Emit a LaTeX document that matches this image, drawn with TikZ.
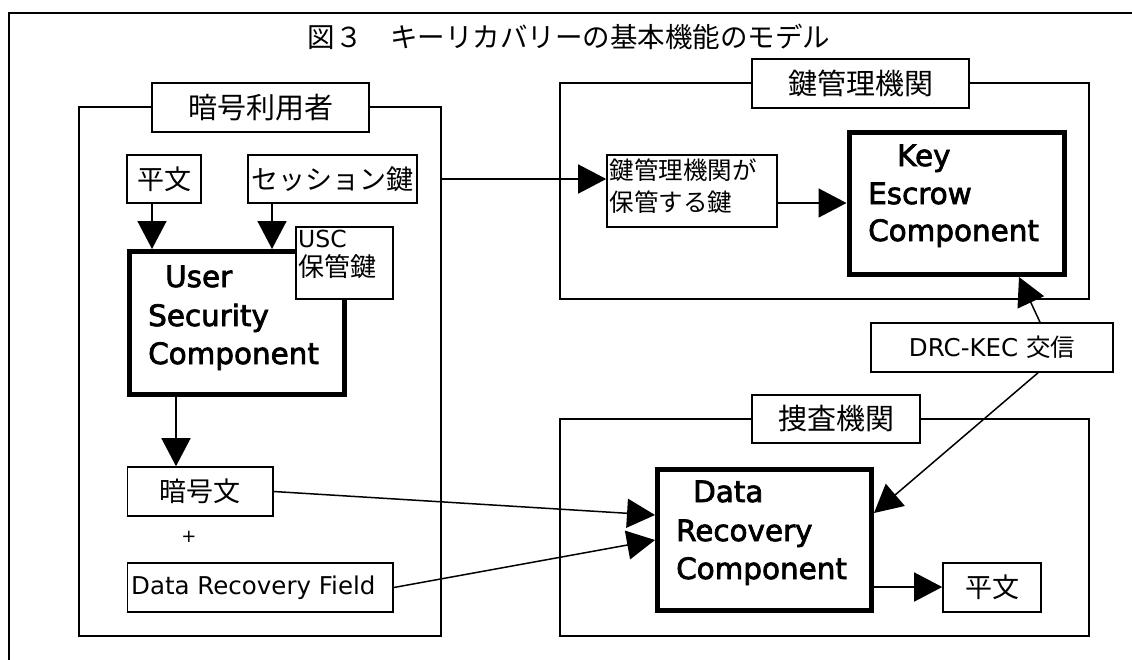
\documentclass[tikz,border=0pt]{standalone}
\usepackage{fontspec}
\setmainfont{DejaVu Sans}
\newfontfamily\jp{Noto Sans CJK JP}
\newfontfamily\compfont[FakeBold=2.5]{DejaVu Sans}
\usetikzlibrary{arrows.meta}

\begin{document}
\begin{tikzpicture}[x=1pt,y=-1pt,
  grp/.style={draw,line width=1.6pt,inner sep=0pt},
  plain/.style={draw,line width=1.6pt,fill=white,inner sep=0pt},
  heavy/.style={draw,line width=5pt,fill=white,inner sep=0pt},
  arr/.style={line width=1.5pt,-{Triangle[length=28pt,width=29pt]}},
  ttl/.style={font=\jp\fontsize{27.5}{27.5}\selectfont},
  lbl/.style={font=\jp\fontsize{29}{29}\selectfont},
  jtxt/.style={font=\jp\fontsize{27}{27}\selectfont},
  jsm/.style={font=\jp\fontsize{24.5}{24.5}\selectfont},
  comp/.style={font=\compfont\fontsize{29.4}{29.4}\selectfont,anchor=base west,inner sep=0pt},
  ltxt/.style={font=\fontsize{24.5}{24.5}\selectfont},
]
\useasboundingbox (0,0) rectangle (1132,659);

% outer frame (runs past the page on the right and bottom)
\draw[line width=2pt] (8.6,13) rectangle (1150,680);

% title
\node[ttl] (title) at (569,37) {図３　キーリカバリーの基本機能のモデル};

% group frames
\node[grp,minimum width=362pt,minimum height=529pt] (gu) at (260,371.5) {};
\node[grp,minimum width=529pt,minimum height=216pt] (gk) at (824.5,191) {};
\node[grp,minimum width=529pt,minimum height=217pt] (gi) at (824.5,527.5) {};

% group labels
\node[plain,lbl,minimum width=217pt,minimum height=49pt] (lu) at (260.5,107.5) {暗号利用者};
\node[plain,lbl,minimum width=217pt,minimum height=49pt] (lk) at (860.5,83.5) {鍵管理機関};
\node[plain,lbl,minimum width=168.5pt,minimum height=48pt] (li) at (836,419) {捜査機関};

% user side
\node[plain,jtxt,minimum width=73.5pt,minimum height=48pt] (p1) at (164,179) {平文};
\node[plain,jtxt,minimum width=169pt,minimum height=48pt] (sk) at (332.5,179) {セッション鍵};
\node[heavy,minimum width=215.5pt,minimum height=143pt] (usc) at (236.75,323) {};
\node[comp] (usc1) at (165,287) {User};
\node[comp] (usc2) at (148,326) {Security};
\node[comp] (usc3) at (148,364) {Component};
\node[plain,minimum width=97pt,minimum height=72pt] (uk) at (344.5,263) {};
\node[anchor=west,inner sep=0pt,font=\fontsize{23.5}{23.5}\selectfont] (uk1) at (298,238.5) {USC};
\node[anchor=west,inner sep=0pt,font=\jp\fontsize{26}{26}\selectfont] (uk2) at (298,267) {保管鍵};
\node[plain,jtxt,minimum width=145.5pt,minimum height=49pt] (ct) at (200.25,491.5) {暗号文};
\node[font=\fontsize{18}{18}\selectfont] (plus) at (189,537) {+};
\node[plain,minimum width=265.5pt,minimum height=49pt] (drf) at (260.25,587.5) {};
\node[ltxt,anchor=west,inner sep=0pt] (drft) at (131,587.5) {Data Recovery Field};

% key escrow agent
\node[plain,minimum width=170pt,minimum height=72pt] (kb) at (692,191) {};
\node[jsm,anchor=west,inner sep=0pt] (kb1) at (609.5,170) {鍵管理機関が};
\node[jsm,anchor=west,inner sep=0pt] (kb2) at (609.5,202) {保管する鍵};
\node[heavy,minimum width=215pt,minimum height=142pt] (kec) at (956.5,203.5) {};
\node[comp] (kec1) at (897,166) {Key};
\node[comp] (kec2) at (868,204) {Escrow};
\node[comp] (kec3) at (868,241) {Component};

% link between DRC and KEC
\node[plain,minimum width=242pt,minimum height=49pt,ltxt] (dk) at (992,347.5) {DRC-KEC {\jp 交信}};

% investigating agency
\node[heavy,minimum width=214pt,minimum height=141pt] (drc) at (764.5,540) {};
\node[comp] (drc1) at (693,502) {Data};
\node[comp] (drc2) at (676,541) {Recovery};
\node[comp] (drc3) at (676,579) {Component};
\node[plain,jtxt,minimum width=98pt,minimum height=49pt] (p2) at (992,587.5) {平文};

% connectors
\draw[arr] ([xshift=-12pt]p1.south) -- ([xshift=-12pt]p1.south |- usc.north);
\draw[arr] ([xshift=-60.5pt]sk.south) -- ([xshift=-60.5pt]sk.south |- usc.north);
\draw[arr] ([xshift=-60.75pt]usc.south) -- ([xshift=-60.75pt]usc.south |- ct.north);
\coordinate (gout) at (gu.east |- sk.center);
\draw[arr] (gout) -- (gout -| kb.west);
\draw[arr] ([yshift=-12pt]kb.east) -- ([yshift=-12pt]kb.east -| kec.west);
\draw[arr] ([xshift=48pt]dk.north) -- ([xshift=62.5pt]kec.south);
\draw[arr] ([xshift=46pt]dk.south) -- ([yshift=27pt]drc.east);
\draw[arr] (ct.east) -- ([yshift=25pt]drc.west);
\draw[arr] (drf.east) -- (drc.west);
\draw[arr] ([yshift=-47pt]drc.east) -- ([yshift=-47pt]drc.east -| p2.west);
\end{tikzpicture}
\end{document}
